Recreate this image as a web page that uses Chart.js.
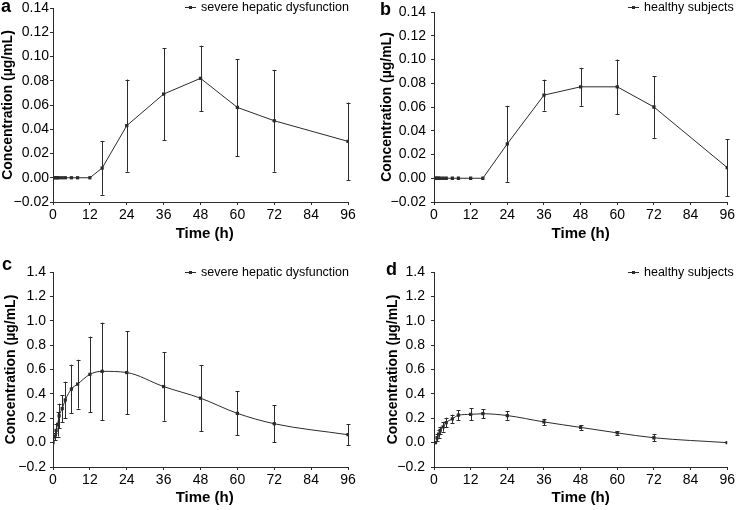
<!DOCTYPE html>
<html>
<head>
<meta charset="utf-8">
<script src="https://cdn.jsdelivr.net/npm/chart.js@4"></script>
<style>
  body { margin: 0; background: #fff; width: 738px; height: 510px; position: relative; overflow: hidden; }
  canvas { position: absolute; }
</style>
</head>
<body>
<canvas id="chartA" width="369" height="250" style="left:0;top:0"></canvas>
<canvas id="chartB" width="370" height="250" style="left:368px;top:0"></canvas>
<canvas id="chartC" width="369" height="260" style="left:0;top:250px"></canvas>
<canvas id="chartD" width="370" height="260" style="left:368px;top:250px"></canvas>
<script>
// sampling times (h)
const times = [0, 0.5, 1, 1.5, 2, 3, 4, 6, 8, 12, 16, 24, 36, 48, 60, 72, 96];
const xTicks = [0, 12, 24, 36, 48, 60, 72, 84, 96];
const yTicksSmall = [-0.02, 0, 0.02, 0.04, 0.06, 0.08, 0.10, 0.12, 0.14];
const yTicksLarge = [-0.2, 0, 0.2, 0.4, 0.6, 0.8, 1.0, 1.2, 1.4];

// a: severe hepatic dysfunction (metabolite)
const meanA = [0, 0, 0, 0, 0, 0, 0, 0, 0, 0, 0.008, 0.043, 0.069, 0.082, 0.058, 0.047, 0.030];
const sdA   = [0, 0, 0, 0, 0, 0, 0, 0, 0, 0, 0.022, 0.038, 0.038, 0.027, 0.040, 0.042, 0.032];
// b: healthy subjects (metabolite)
const meanB = [0, 0, 0, 0, 0, 0, 0, 0, 0, 0, 0, 0.029, 0.070, 0.077, 0.077, 0.060, 0.009];
const sdB   = [0, 0, 0, 0, 0, 0, 0, 0, 0, 0, 0, 0.032, 0.013, 0.016, 0.023, 0.026, 0.024];
// c: severe hepatic dysfunction
const meanC = [0, 0.05, 0.10, 0.15, 0.22, 0.28, 0.35, 0.44, 0.48, 0.56, 0.585, 0.575, 0.46, 0.365, 0.24, 0.155, 0.065];
const sdC   = [0, 0.03, 0.05, 0.10, 0.10, 0.11, 0.15, 0.20, 0.20, 0.31, 0.40, 0.34, 0.28, 0.27, 0.18, 0.15, 0.085];
// d: healthy subjects
const meanD = [0, 0, 0.04, 0.07, 0.10, 0.13, 0.165, 0.195, 0.225, 0.232, 0.237, 0.222, 0.17, 0.125, 0.08, 0.04, 0];
const sdD   = [0, 0, 0.03, 0.03, 0.03, 0.04, 0.04, 0.035, 0.04, 0.05, 0.035, 0.035, 0.025, 0.02, 0.015, 0.03, 0];

const FONT = '"Liberation Sans", Arial, Helvetica, sans-serif';
const INK = '#2b2b2b';

const errorBars = {
  id: 'errorBars',
  afterDatasetsDraw(chart) {
    const { ctx, scales: { x, y } } = chart;
    const ds = chart.data.datasets[0];
    ctx.save();
    ctx.strokeStyle = INK;
    ctx.lineWidth = 1;
    ds.data.forEach((p, i) => {
      const sd = ds.sd[i];
      if (!sd) return;
      const px = Math.round(x.getPixelForValue(p.x)) + 0.5;
      const top = y.getPixelForValue(p.y + sd);
      const bot = y.getPixelForValue(p.y - sd);
      ctx.beginPath();
      ctx.moveTo(px, top); ctx.lineTo(px, bot);
      ctx.moveTo(px - 2, Math.round(top) + 0.5); ctx.lineTo(px + 2, Math.round(top) + 0.5);
      ctx.moveTo(px - 2, Math.round(bot) + 0.5); ctx.lineTo(px + 2, Math.round(bot) + 0.5);
      ctx.stroke();
    });
    ctx.restore();
  }
};

const panelDeco = {
  id: 'panelDeco',
  afterDraw(chart, args, o) {
    const ctx = chart.ctx;
    ctx.save();
    ctx.fillStyle = '#000';
    ctx.font = 'bold 18px ' + FONT;
    ctx.textBaseline = 'alphabetic';
    ctx.fillText(o.letter, o.letterX, o.letterY);
    // legend
    ctx.strokeStyle = INK;
    ctx.lineWidth = 1;
    ctx.beginPath();
    ctx.moveTo(o.legX, o.legY + 0.5); ctx.lineTo(o.legX + 11, o.legY + 0.5);
    ctx.stroke();
    ctx.fillStyle = INK;
    ctx.fillRect(o.legX + 4, o.legY - 1, 3, 3);
    ctx.fillStyle = '#000';
    ctx.font = '12.5px ' + FONT;
    ctx.textBaseline = 'middle';
    ctx.fillText(o.label, o.legX + 16, o.legY + 1);
    ctx.restore();
  }
};

function fmt(v, d) {
  const s = Math.abs(v).toFixed(d);
  return v < -1e-9 ? '\u2212' + s : s;
}

function makeChart(id, mean, sd, yTicks, decimals, smooth, lay) {
  const data = times.map((t, i) => ({ x: t, y: mean[i] }));
  return new Chart(document.getElementById(id), {
    type: 'line',
    data: {
      datasets: [{
        data: data,
        sd: sd,
        borderColor: INK,
        backgroundColor: INK,
        borderWidth: 1,
        pointStyle: 'rect',
        pointRadius: 2.3,
        pointBorderWidth: 0,
        tension: 0,
        cubicInterpolationMode: smooth ? 'monotone' : 'default'
      }]
    },
    options: {
      responsive: false,
      animation: false,
      devicePixelRatio: 1,
      layout: { padding: { top: lay.top, right: lay.right, bottom: 0, left: 0 } },
      plugins: {
        legend: { display: false },
        tooltip: { enabled: false },
        panelDeco: lay.deco
      },
      scales: {
        x: {
          type: 'linear',
          min: 0, max: 96,
          afterBuildTicks: s => { s.ticks = xTicks.map(v => ({ value: v })); },
          afterFit: s => { s.height = lay.xHeight; },
          ticks: { color: '#000', font: { family: FONT, size: 14, lineHeight: 1 }, padding: 3, maxRotation: 0, callback: v => String(v) },
          grid: { drawOnChartArea: false, tickLength: 3, color: INK },
          border: { color: INK, width: 1 },
          title: { display: true, text: lay.xTitle, color: '#000', font: { family: FONT, size: 15, weight: 'bold' }, padding: { top: 0, bottom: lay.xTitlePad } }
        },
        y: {
          type: 'linear',
          min: yTicks[0], max: yTicks[yTicks.length - 1],
          afterBuildTicks: s => { s.ticks = yTicks.map(v => ({ value: v })); },
          afterFit: s => { s.width = lay.yWidth; },
          ticks: { color: '#000', font: { family: FONT, size: 14, lineHeight: 1 }, padding: lay.yTickPad, callback: v => fmt(v, decimals) },
          grid: { drawOnChartArea: false, tickLength: 3, color: INK },
          border: { color: INK, width: 1 },
          title: { display: true, text: 'Concentration (\u00b5g/mL)', color: '#000', font: { family: FONT, size: 14, weight: 'bold' }, padding: { top: lay.yTitlePad, bottom: 0 } }
        }
      }
    },
    plugins: [errorBars, panelDeco]
  });
}

makeChart('chartA', meanA, sdA, yTicksSmall, 2, false, {
  top: 7, right: 21, xHeight: 48, xTitlePad: 7, yWidth: 53, yTickPad: 1, yTitlePad: 0, xTitle: '  Time (h)',
  deco: { letter: 'a', letterX: 1, letterY: 12, label: 'severe hepatic dysfunction', legX: 185, legY: 7 }
});
makeChart('chartB', meanB, sdB, yTicksSmall, 2, false, {
  top: 7, right: 9, xHeight: 48, xTitlePad: 7, yWidth: 66, yTickPad: 5, yTitlePad: 11, xTitle: 'Time (h)',
  deco: { letter: 'b', letterX: 12, letterY: 15, label: 'healthy subjects', legX: 260, legY: 7 }
});
makeChart('chartC', meanC, sdC, yTicksLarge, 1, true, {
  top: 22, right: 21, xHeight: 43, xTitlePad: 3, yWidth: 53, yTickPad: 4, yTitlePad: 3, xTitle: '  Time (h)',
  deco: { letter: 'c', letterX: 2, letterY: 20, label: 'severe hepatic dysfunction', legX: 185, legY: 22 }
});
makeChart('chartD', meanD, sdD, yTicksLarge, 1, true, {
  top: 22, right: 9, xHeight: 43, xTitlePad: 3, yWidth: 66, yTickPad: 6, yTitlePad: 17, xTitle: 'Time (h)',
  deco: { letter: 'd', letterX: 18, letterY: 25, label: 'healthy subjects', legX: 260, legY: 22 }
});
</script>
</body>
</html>
